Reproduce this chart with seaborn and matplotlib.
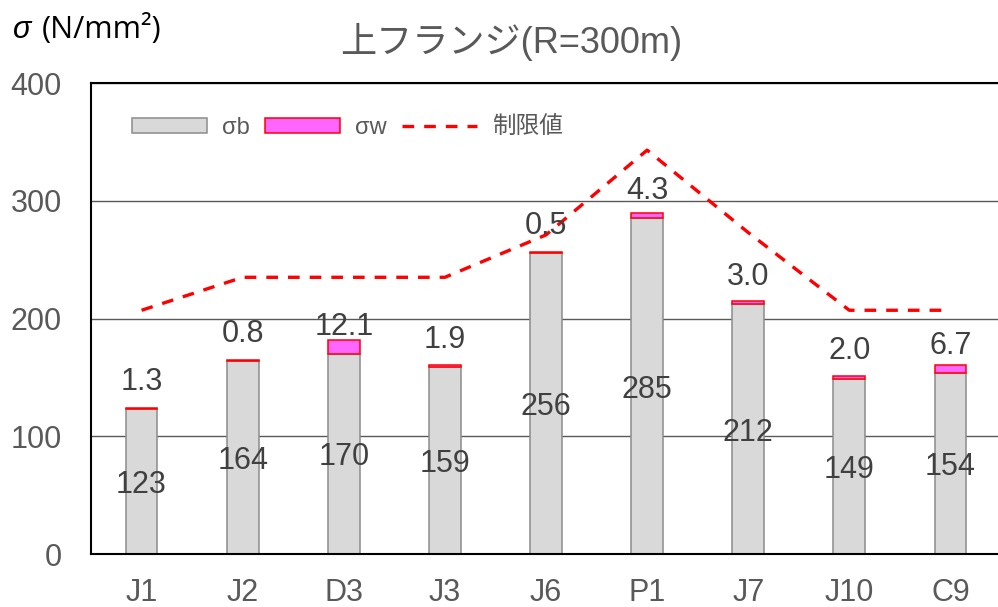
import numpy as np
import pandas as pd
import matplotlib
matplotlib.use("Agg")
import matplotlib.pyplot as plt
from matplotlib.patches import Patch
from matplotlib.lines import Line2D
import seaborn as sns

# Stress at each check point of the upper flange (N/mm2)
categories = ["J1", "J2", "D3", "J3", "J6", "P1", "J7", "J10", "C9"]
sigma_b = [123, 164, 170, 159, 256, 285, 212, 149, 154]
sigma_w = [1.3, 0.8, 12.1, 1.9, 0.5, 4.3, 3.0, 2.0, 6.7]
limit = [207, 235, 235, 235, 271, 343, 273, 207, 207]
y_ticks = [0, 100, 200, 300, 400]

sns.set_theme(style="white")
plt.rcParams["font.family"] = ["Liberation Sans", "Noto Sans CJK JP", "DejaVu Sans"]

GREY_FILL = "#D9D9D9"
GREY_EDGE = "#8C8C8C"
PINK = "#FF66FF"
RED = "#FF0000"
TICK_C = "#595959"
LABEL_C = "#404040"

fig = plt.figure(figsize=(9.98, 6.07), dpi=100)
ax = fig.add_axes([91 / 998, 53 / 607, 910 / 998, 471 / 607])

df = pd.DataFrame({"pos": np.arange(len(categories)), "point": categories,
                   "sigma_b": sigma_b, "sigma_w": sigma_w, "limit": limit})
bar_w = 0.314

sns.barplot(data=df, x="point", y="sigma_b", order=categories, width=bar_w,
            color=GREY_FILL, edgecolor=GREY_EDGE, linewidth=1.1,
            saturation=1, errorbar=None, ax=ax, zorder=2)

ax.bar(df["pos"], df["sigma_w"], bottom=df["sigma_b"], width=bar_w,
       color=PINK, edgecolor=RED, linewidth=1.1, zorder=3)

dash = (0, (3.5, 3.0))
sns.lineplot(data=df, x="pos", y="limit", sort=False, color=RED,
             linewidth=2.4, linestyle=dash, dash_capstyle="butt",
             legend=False, ax=ax, zorder=4)

# value labels: sigma_b in the middle of the bar, sigma_w above it
for i, (b, w) in enumerate(zip(sigma_b, sigma_w)):
    ax.text(i, b / 2, f"{b}", ha="center", va="center_baseline",
            fontsize=22, color=LABEL_C, zorder=5)
    ax.annotate(f"{w:.1f}", xy=(i, b), xytext=(0, 22),
                textcoords="offset points", ha="center",
                va="center_baseline", fontsize=22, color=LABEL_C, zorder=5)

ax.set_xlim(-0.5, len(categories) - 0.5)
ax.set_ylim(0, 400)
ax.set_yticks(y_ticks)
ax.set_xticks(df["pos"], categories)
ax.set_xlabel("")
ax.set_ylabel("")
ax.tick_params(axis="x", length=0, pad=17, labelsize=22, labelcolor=TICK_C)
ax.tick_params(axis="y", length=0, pad=21, labelsize=22, labelcolor=TICK_C)

ax.set_axisbelow(True)
ax.yaxis.grid(True, color="#595959", linewidth=1.0)
ax.xaxis.grid(False)
for side in ["left", "bottom", "top"]:
    ax.spines[side].set_visible(True)
    ax.spines[side].set_color("black")
    ax.spines[side].set_linewidth(1.5)
ax.spines["right"].set_visible(False)

handles = [
    Patch(facecolor=GREY_FILL, edgecolor=GREY_EDGE, linewidth=1.1),
    Patch(facecolor=PINK, edgecolor=RED, linewidth=1.1),
    Line2D([], [], color=RED, linewidth=2.4, linestyle=dash,
           dash_capstyle="butt"),
]
leg = ax.legend(handles, ["σb", "σw", "制限値"], ncol=3, frameon=False,
                loc="center left", bbox_to_anchor=(0.0447, 0.9055),
                borderpad=0, borderaxespad=0, fontsize=17,
                handlelength=3.17, handleheight=0.6, handletextpad=0.64,
                columnspacing=0.66)
for t in leg.get_texts():
    t.set_color(TICK_C)

fig.text(511 / 998, 1 - 53 / 607, "上フランジ(R=300m)", ha="center",
         va="baseline", fontsize=26, color=TICK_C)
fig.text(13 / 998, 1 - 38 / 607, "σ", ha="left", va="baseline",
         fontsize=22, style="italic", color="black")
fig.text(42 / 998, 1 - 38 / 607, "(N/mm²)", ha="left", va="baseline",
         fontsize=22, color="black", family=["Open Sans", "DejaVu Sans"])

fig.savefig("out.png", dpi=100)
